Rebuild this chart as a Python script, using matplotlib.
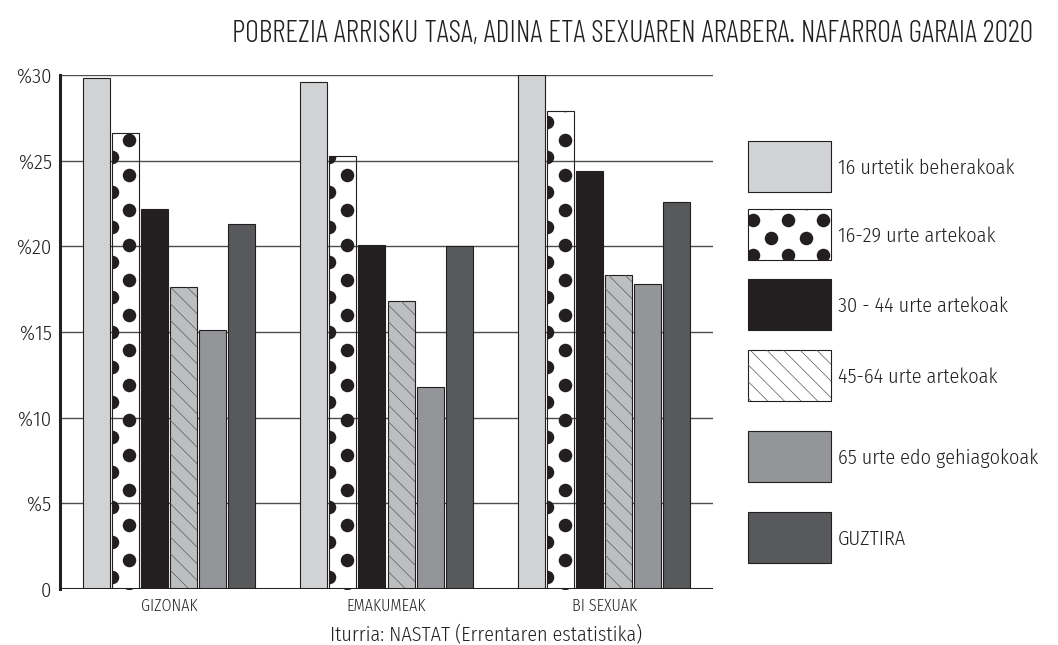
import matplotlib
matplotlib.use("Agg")
import matplotlib.pyplot as plt
from matplotlib.patches import Rectangle
import numpy as np

plt.rcParams['font.family'] = ['Fira Sans Condensed', 'DejaVu Sans']
plt.rcParams['hatch.linewidth'] = 0.5

# data
groups = ["GIZONAK", "EMAKUMEAK", "BI SEXUAK"]
series = ["16 urtetik beherakoak", "16-29 urte artekoak", "30 - 44 urte artekoak",
          "45-64 urte artekoak", "65 urte edo gehiagokoak", "GUZTIRA"]
under16 = [29.8, 29.6, 30.0]
age16_29 = [26.6, 25.3, 27.9]
age30_44 = [22.2, 20.1, 24.4]
age45_64 = [17.6, 16.8, 18.3]
age65 = [15.1, 11.8, 17.8]
total = [21.3, 20.0, 22.6]
values = [under16, age16_29, age30_44, age45_64, age65, total]
yticks = [0, 5, 10, 15, 20, 25, 30]
ytick_labels = ["0", "%5", "%10", "%15", "%20", "%25", "%30"]

title = "POBREZIA ARRISKU TASA, ADINA ETA SEXUAREN ARABERA. NAFARROA GARAIA 2020"
source = "Iturria: NASTAT (Errentaren estatistika)"

# styles: facecolor, pattern kind
INK = '#231f20'
faces = ['#d1d2d4', 'none', '#231f20', '#bdbec0', '#939598', '#58595b']
legend_faces = ['#d1d2d4', 'white', '#231f20', 'white', '#939598', '#58595b']
kinds = ['plain', 'dots', 'plain', 'lines', 'plain', 'plain']

W, H = 1058, 645
fig = plt.figure(figsize=(W / 100, H / 100), dpi=100)
ax = fig.add_axes([60 / W, 1 - 589 / H, (713 - 60) / W, (589 - 75) / H])

x = np.arange(len(groups))
step = 0.1335
width = 0.124
ax.set_xlim(-0.5, 2.5)
ax.set_ylim(0, 30)

# px -> data conversions for the dot pattern
px_x = 3.0 / (713 - 60)
px_y = 30.0 / (589 - 75)
dot_gap = 17.5


def dot_fill(axis, patch, x0, y0, x1, y1, sx, sy, size):
    # hex grid of filled circles, clipped to the patch
    pts = []
    nx = int((x1 - x0) / (dot_gap * sx)) + 2
    ny = int((y1 - y0) / (dot_gap * sy)) + 2
    for i in range(-1, nx):
        for j in range(-1, ny):
            if (i + j) % 2 == 0:
                pts.append((x0 + i * dot_gap * sx, y0 + j * dot_gap * sy))
    pts = np.array(pts)
    sc = axis.scatter(pts[:, 0], pts[:, 1], s=size, color=INK, linewidths=0,
                      zorder=patch.get_zorder() + 0.1)
    sc.set_clip_path(patch)


for k, vals in enumerate(values):
    pos = x + (k - 2.5) * step
    bars = ax.bar(pos, vals, width=width, color=faces[k], edgecolor=INK, linewidth=0.8, zorder=3)
    for b in bars:
        if kinds[k] == 'dots':
            dot_fill(ax, b, b.get_x(), 0.7, b.get_x() + width, b.get_height(), px_x, px_y, 95)
        elif kinds[k] == 'lines':
            ax.add_patch(Rectangle((b.get_x(), 0), width, b.get_height(), facecolor='none',
                                   edgecolor='#5a5a5c', hatch='\\\\', linewidth=0, zorder=3.2))

# grid and axes
for t in yticks[1:]:
    ax.axhline(t, color='#4d4d4f', linewidth=1.0, zorder=1)
ax.axhline(0, color=INK, linewidth=2.2, zorder=5)
for s in ['top', 'right', 'bottom']:
    ax.spines[s].set_visible(False)
ax.spines['left'].set_linewidth(2.2)
ax.spines['left'].set_color(INK)
ax.spines['left'].set_zorder(5)
ax.set_yticks(yticks)
ax.set_yticklabels(ytick_labels, fontsize=15, color=INK, fontweight=300)
ax.tick_params(axis='y', length=0, pad=6)
ax.set_xticks(x)
ax.set_xticklabels(groups, fontsize=11.5, color=INK, fontweight=300)
ax.tick_params(axis='x', length=0, pad=7)

t = fig.text(633 / W, 1 - 34 / H, title, ha='center', va='center', fontsize=26,
             fontweight=300, color=INK, family=['Barlow Condensed', 'DejaVu Sans'])
# fit title to the reference width
fig.canvas.draw()
tw = t.get_window_extent().width
t.set_fontsize(26 * 803 / tw)
fig.text(486 / W, 1 - 635 / H, source, ha='center', va='center', fontsize=14.5, fontweight=300, color=INK)

# legend drawn in pixel coordinates
lax = fig.add_axes([720 / W, 0, (W - 720) / W, 1])
lax.set_xlim(720, W)
lax.set_ylim(H, 0)
lax.axis('off')
box_tops = [141, 209, 279, 350, 431, 512]
box_w, box_h = 83, 51
for k, name in enumerate(series):
    top = box_tops[k]
    rect = Rectangle((748, top), box_w, box_h, facecolor=legend_faces[k], edgecolor=INK,
                     linewidth=0.8, zorder=2)
    lax.add_patch(rect)
    if kinds[k] == 'dots':
        dot_fill(lax, rect, 753, top + 11, 748 + box_w, top + box_h, 1, 1, 95)
    elif kinds[k] == 'lines':
        lax.add_patch(Rectangle((748, top), box_w, box_h, facecolor='none', edgecolor='#5a5a5c',
                                hatch='\\\\', linewidth=0, zorder=2.2))
    lax.text(838, top + box_h / 2 + 2, name, ha='left', va='center', fontsize=14.6,
             fontweight=300, color=INK)

fig.savefig("out.png", dpi=100)
